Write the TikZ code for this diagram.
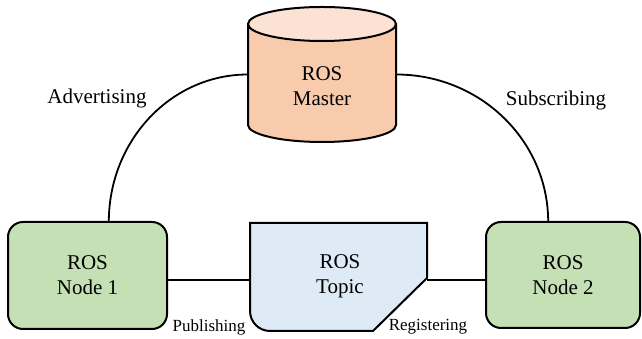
\documentclass[tikz,border=0pt]{standalone}
\usepackage{fontspec}
\setmainfont{Liberation Serif}
\usetikzlibrary{calc}
\definecolor{masterbody}{HTML}{F8CBAD}
\definecolor{mastertop}{HTML}{FBE2D5}
\definecolor{nodegreen}{HTML}{C5E0B4}
\definecolor{topicblue}{HTML}{DEEBF7}
\tikzset{
  x=1pt, y=1pt,
  outline/.style={draw=black, line width=2pt},
  link/.style={draw=black, line width=1.8pt},
  rosnode/.style={outline, fill=nodegreen, rounded corners=15pt, align=center,
    minimum width=155pt, minimum height=106pt, inner sep=0pt,
    font=\fontsize{21}{25}\selectfont},
  anchorbox/.style={inner sep=0pt, align=center, font=\fontsize{21}{25}\selectfont},
  lbl/.style={font=\fontsize{21}{25}\selectfont},
  smalllbl/.style={font=\fontsize{17}{20}\selectfont}
}
\begin{document}
\begin{tikzpicture}
\useasboundingbox (0,0) rectangle (642,339);

% ROS Master cylinder
\fill[masterbody] (248,315) -- (248,214)
  arc[start angle=180, end angle=360, x radius=74, y radius=17] -- (396,315) -- cycle;
\draw[outline] (248,315) -- (248,214)
  arc[start angle=180, end angle=360, x radius=74, y radius=17] -- (396,315);
\draw[outline, fill=mastertop] (322,315) ellipse[x radius=74, y radius=17];
\node[anchorbox, minimum width=148pt, minimum height=101pt] (master) at (322,264.5) {};
\node[anchorbox] at (322,253) {ROS\\Master};

% ROS Topic with rounded lower-left corner and cut lower-right corner
\draw[outline, fill=topicblue] (250,116) -- (427,116) -- (427,61) -- (373,8)
  -- (270,8) arc[start angle=270, end angle=180, radius=20] -- cycle;
\node[anchorbox, minimum width=177pt, minimum height=108pt] (topic) at (338.5,62) {};
\node[anchorbox] at (340,63) {ROS\\Topic};

% ROS nodes
\node[rosnode, minimum width=159pt, minimum height=107pt] (n1) at (87.5,63.5) {ROS\\Node 1};
\node[rosnode, minimum width=154pt, minimum height=106pt] (n2) at (563,64) {ROS\\Node 2};

% Connectors
\draw[link] (master.west) arc[start angle=90, end angle=180, x radius=139, y radius=147.5];
\draw[link] (master.east) arc[start angle=90, end angle=0, x radius=152, y radius=147.5];
\draw[link] ([yshift=-4.5pt]n1.east) -- ([yshift=-4.5pt]n1.east -| topic.west);
\draw[link] ([yshift=-3pt]topic.east) -- ([yshift=-3pt]topic.east -| n2.west);

% Labels
\node[lbl] (adv) at (97,241) {Advertising};
\node[lbl] (sub) at (556,239) {Subscribing};
\node[smalllbl] (pub) at (209,12) {Publishing};
\node[smalllbl] (reg) at (428,12) {Registering};
\end{tikzpicture}
\end{document}
